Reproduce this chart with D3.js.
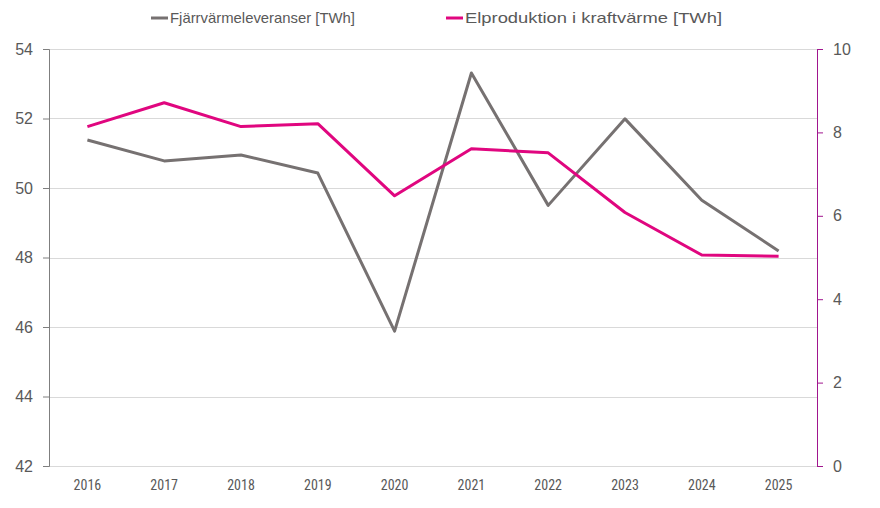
<!DOCTYPE html>
<html>
<head>
<meta charset="utf-8">
<style>
body { margin: 0; background: #fff; }
svg { font-family: "Liberation Sans", Arial, sans-serif; }
.grid line { stroke: #d9d9d9; stroke-width: 1; }
.axis--left path, .axis--left line { stroke: #7f7f7f; }
.axis--right path, .axis--right line { stroke: #a0158e; }
.axis text { fill: #595959; font-size: 16px; }
.axis--x text { font-family: "Liberation Sans Narrow", "Roboto Condensed", sans-serif; font-size: 14px; }
.legend text { fill: #595959; font-family: "Liberation Sans Narrow", sans-serif; font-size: 15px; }
.line { fill: none; stroke-width: 3; stroke-linejoin: round; }
</style>
</head>
<body>
<svg width="880" height="508"></svg>
<script src="https://cdn.jsdelivr.net/npm/d3@7"></script>
<script>
// data
var years = ["2016","2017","2018","2019","2020","2021","2022","2023","2024","2025"];
var fjarrvarme = [51.38, 50.78, 50.95, 50.43, 45.88, 53.31, 49.50, 51.99, 49.65, 48.19];
var elproduktion = [8.14, 8.71, 8.14, 8.21, 6.48, 7.61, 7.51, 6.08, 5.06, 5.03];
var leftTicks = [42, 44, 46, 48, 50, 52, 54];
var rightTicks = [0, 2, 4, 6, 8, 10];
var seriesNames = ["Fjärrvärmeleveranser [TWh]", "Elproduktion i kraftvärme [TWh]"];
var colors = ["#767171", "#e0067f"];

var svg = d3.select("svg"),
    margin = {top: 49, right: 63, bottom: 42, left: 49},
    width = 880 - margin.left - margin.right,
    height = 508 - margin.top - margin.bottom;

var x = d3.scaleBand().domain(years).range([0, width]);
var yL = d3.scaleLinear().domain([42, 54]).range([height, 0]);
var yR = d3.scaleLinear().domain([0, 10]).range([height, 0]);

var g = svg.append("g")
    .attr("transform", "translate(" + margin.left + "," + margin.top + ")");

// gridlines
g.append("g").attr("class", "grid")
  .selectAll("line").data(leftTicks).enter().append("line")
    .attr("x1", 0).attr("x2", width)
    .attr("y1", function(d) { return Math.round(yL(d)) + 0.5; })
    .attr("y2", function(d) { return Math.round(yL(d)) + 0.5; });

// x labels
var gx = g.append("g").attr("class", "axis axis--x")
    .attr("transform", "translate(0," + height + ")")
    .call(d3.axisBottom(x).tickSize(0).tickPadding(14));
gx.select(".domain").remove();

// left axis
var gl = g.append("g").attr("class", "axis axis--left")
    .call(d3.axisLeft(yL).tickValues(leftTicks).tickSize(6).tickPadding(10));

// right axis
var gr = g.append("g").attr("class", "axis axis--right")
    .attr("transform", "translate(" + width + ",0)")
    .call(d3.axisRight(yR).tickValues(rightTicks).tickSize(6).tickPadding(10));
gr.selectAll("text").style("fill", "#595959");

// lines
var lineL = d3.line()
    .x(function(d, i) { return x(years[i]) + x.bandwidth() / 2; })
    .y(function(d) { return yL(d); });
var lineR = d3.line()
    .x(function(d, i) { return x(years[i]) + x.bandwidth() / 2; })
    .y(function(d) { return yR(d); });

g.append("path").datum(fjarrvarme).attr("class", "line")
    .attr("stroke", colors[0]).attr("d", lineL);
g.append("path").datum(elproduktion).attr("class", "line")
    .attr("stroke", colors[1]).attr("d", lineR);

// legend
var legendX = [151, 446];
var legendW = [185, 257];
var legend = svg.append("g").attr("class", "legend")
  .selectAll("g").data(seriesNames).enter().append("g")
    .attr("transform", function(d, i) { return "translate(" + legendX[i] + ",18)"; });
legend.append("line")
    .attr("x1", 0).attr("x2", 17).attr("y1", 0).attr("y2", 0)
    .attr("stroke", function(d, i) { return colors[i]; })
    .attr("stroke-width", 3);
legend.append("text")
    .attr("x", 19).attr("y", 5)
    .attr("textLength", function(d, i) { return legendW[i]; })
    .attr("lengthAdjust", "spacingAndGlyphs")
    .text(function(d) { return d; });
</script>
</body>
</html>
